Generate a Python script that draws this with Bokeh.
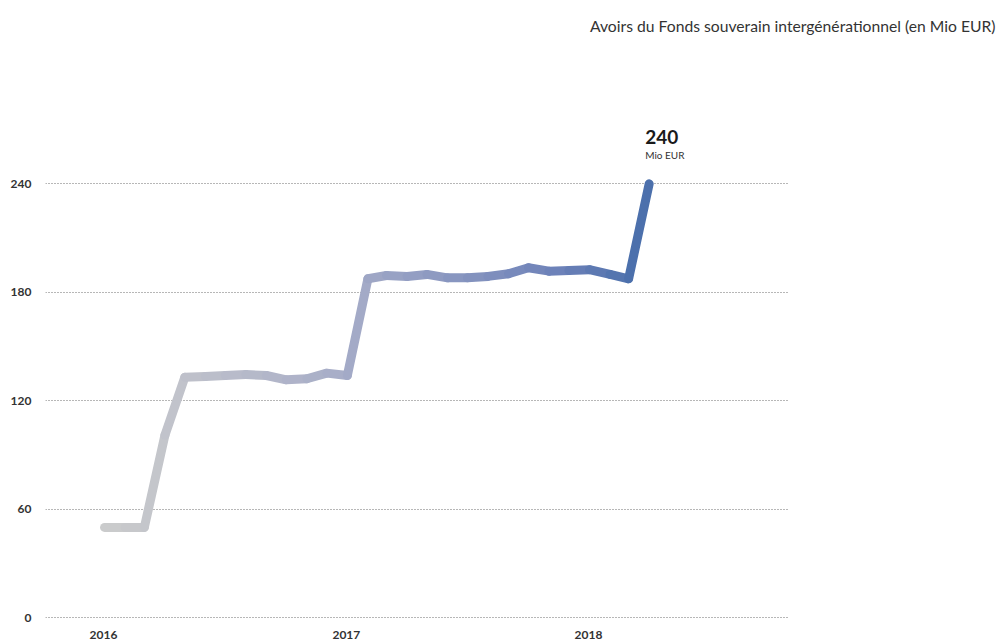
import numpy as np
import pandas as pd
from bokeh.plotting import figure
from bokeh.models import Range1d, FixedTicker, Title, ColumnDataSource
from bokeh.core.properties import value
from bokeh.embed import file_html
from bokeh.resources import INLINE

# ---- data ----
months = ["2016-01", "2016-02", "2016-03", "2016-04", "2016-05", "2016-06",
          "2016-07", "2016-08", "2016-09", "2016-10", "2016-11", "2016-12",
          "2017-01", "2017-02", "2017-03", "2017-04", "2017-05", "2017-06",
          "2017-07", "2017-08", "2017-09", "2017-10", "2017-11", "2017-12",
          "2018-01", "2018-02", "2018-03", "2018-04"]
assets = [50, 50, 50, 101, 133, 133.5, 134, 134.5, 134, 131.6, 132.2, 135.3,
          134, 187.5, 189.3, 188.8, 189.9, 188, 188, 188.8, 190.3, 193.6, 191.7, 192.1,
          192.5, 189.9, 187.5, 240]
year_ticks = ["2016-01-01", "2017-01-01", "2018-01-01"]
year_labels = ["2016", "2017", "2018"]
y_ticks = [0, 60, 120, 180, 240]
title_text = "Avoirs du Fonds souverain intergénérationnel (en Mio EUR)"
unit_text = "Mio EUR"

FONT = "Lato"
dates = pd.to_datetime(months)

# ---- figure ----
W, H = 999, 641
x0 = pd.Timestamp("2016-01-01") - pd.Timedelta(days=89.0)
x1 = pd.Timestamp("2016-01-01") + pd.Timedelta(days=1031.0)
p = figure(width=W, height=H, x_axis_type="datetime", x_axis_location=None,
           output_backend="svg", toolbar_location=None, x_range=Range1d(x0, x1),
           y_range=Range1d(-13.11, 316.5),
           min_border_left=45, min_border_right=211, min_border_top=45,
           min_border_bottom=0, background_fill_color="white",
           border_fill_color="white", outline_line_color=None)

# grid
p.xgrid.grid_line_color = None
p.ygrid.grid_line_color = "#6f6f6f"
p.ygrid.grid_line_dash = "1 2"
p.ygrid.grid_line_width = 1
p.yaxis.ticker = FixedTicker(ticks=y_ticks)

ax = p.yaxis[0]
ax.axis_line_color = None
ax.major_tick_line_color = None
ax.minor_tick_line_color = None
ax.major_tick_out = 0
ax.minor_tick_out = 0
ax.major_label_text_font = FONT
ax.major_label_text_font_style = "bold"
ax.major_label_text_font_size = "12px"
ax.major_label_text_color = "#333333"
ax.major_label_standoff = 14

# year labels (x axis)
yrs = ColumnDataSource(dict(x=pd.to_datetime(year_ticks), y=[0] * len(year_ticks), t=year_labels))
p.text("x", "y", text="t", source=yrs, x_offset=-1, y_offset=17,
       text_font=value(FONT), text_font_style="bold", text_font_size="12px",
       text_color="#333333", text_align="center", text_baseline="alphabetic")

# gradient line drawn as segments (colour stops along the line)
n = len(assets)
stop_t = [0.0, 0.43, 0.83, 1.0]
stop_r = [204, 168, 110, 72]
stop_g = [204, 174, 130, 110]
stop_b = [204, 200, 185, 170]
colors = []
for i in range(n - 1):
    t = (i + 0.5) / (n - 1)
    c = (np.interp(t, stop_t, stop_r), np.interp(t, stop_t, stop_g), np.interp(t, stop_t, stop_b))
    colors.append("#%02x%02x%02x" % tuple(int(round(v)) for v in c))
seg = ColumnDataSource(dict(x0=dates[:-1], y0=assets[:-1], x1=dates[1:], y1=assets[1:], c=colors))
p.segment("x0", "y0", "x1", "y1", source=seg, line_color="c", line_width=9, line_cap="round")

# last value annotation
last = ColumnDataSource(dict(x=[dates[-1]], y=[assets[-1]], t=["%d" % round(assets[-1])], u=[unit_text]))
p.text("x", "y", text="t", source=last, x_offset=-4, y_offset=-47,
       text_font=value(FONT), text_font_style="bold", text_font_size="19px",
       text_color="#1a1a1a", text_align="left", text_baseline="alphabetic")
p.text("x", "y", text="u", source=last, x_offset=-4, y_offset=-29,
       text_font=value(FONT), text_font_size="10px",
       text_color="#333333", text_align="left", text_baseline="alphabetic")

# title at top right
p.add_layout(Title(text=title_text, align="right", offset=-207, standoff=22,
                   text_font=FONT, text_font_size="15.7px", text_font_style="normal",
                   text_color="#333333"), "above")

open("out.html", "w").write(file_html(p, INLINE))
